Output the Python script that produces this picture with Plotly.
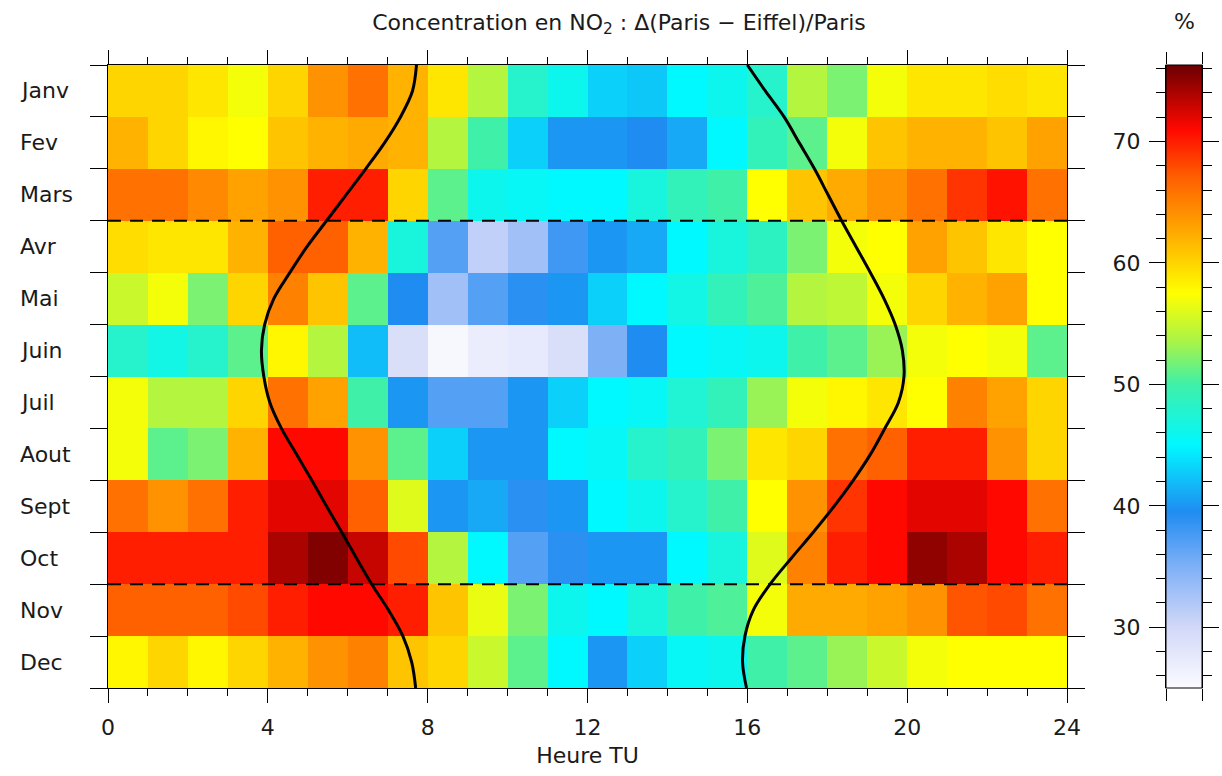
import plotly.graph_objects as go

# ---------------- data ----------------
HOURS = list(range(24))                       # hour bins 0..23 (UT)
MONTHS = ["Janv", "Fev", "Mars", "Avr", "Mai", "Juin",
          "Juil", "Aout", "Sept", "Oct", "Nov", "Dec"]

JANV = [60, 60, 59, 57, 60, 64, 66, 62, 59, 54, 48, 46, 43, 42.5, 45, 46, 48, 54, 52, 57, 59, 59, 59.5, 59]
FEV  = [62, 60, 58, 57.5, 61, 62, 62.5, 62, 54, 50, 43, 40, 40, 39.5, 41, 45, 49, 51, 57, 61, 62, 62, 61, 63]
MARS = [66, 66, 64.5, 63, 64, 70, 70, 60, 51, 46, 45.5, 45, 45, 47, 49, 50, 57.5, 61, 62.5, 64, 66, 69, 70.5, 66]
AVR  = [59.5, 59, 59, 62, 67, 67, 62, 47, 37, 31, 33, 38, 40, 41, 45, 47, 48.5, 52, 57, 57.5, 63, 61, 59, 57.5]
MAI  = [55, 57, 52, 60, 65, 61, 51, 39.5, 33, 37, 39, 40, 43, 45, 46.5, 49, 50.5, 54, 54.5, 57, 60, 62, 63, 57.5]
JUIN = [48, 46.5, 48, 51, 58, 54, 42, 29, 25.5, 27, 27.5, 29, 35, 39.5, 45, 45.5, 46, 50, 51, 53, 57, 57.5, 57, 51]
JUIL = [57, 54, 54, 60, 66, 63, 50, 40, 37, 37, 40, 43, 45, 45.5, 47.5, 49, 53, 57, 58, 59, 57.5, 65, 63, 60]
AOUT = [57, 51, 52, 62, 71, 71, 64, 51, 43, 40, 40, 45, 45.5, 48, 49, 52, 59, 60, 66, 67, 70, 70, 64, 60]
SEPT = [66, 64, 66, 70, 72, 72, 67, 56, 40, 41, 39, 40, 45, 46, 48, 50, 57.5, 64, 69, 71, 72, 72, 71, 66]
OCT  = [70, 70, 70, 70, 74, 75.5, 73, 68, 54, 45, 37, 39, 40, 40, 45, 47, 56, 65, 70, 71, 75, 74, 71, 70]
NOV  = [67, 67, 67, 68, 70, 71, 71, 70, 61, 56.5, 52, 46, 45, 47, 50, 50.5, 57, 62.5, 62.5, 63, 64, 67.5, 68, 66]
DEC  = [58, 60, 58, 60, 62, 64, 65, 61, 60, 55, 51, 45, 40, 43, 45.5, 46, 50, 51, 53, 55, 57, 57.5, 57.5, 57.5]

# sunrise / sunset curves (hours UT) read at month boundaries and mid-months
CURVE_MONTH_POS = [0, 0.5, 1, 1.5, 2, 2.5, 3, 3.5, 4, 4.5, 5, 5.5, 6,
                   6.5, 7, 7.5, 8, 8.5, 9, 9.5, 10, 10.5, 11, 11.5, 12]
SUNRISE = [7.72, 7.62, 7.32, 6.92, 6.45, 5.96, 5.47, 4.98, 4.55, 4.15, 3.92, 3.84, 3.9,
           4.05, 4.34, 4.72, 5.1, 5.47, 5.85, 6.22, 6.6, 7.02, 7.38, 7.6, 7.7]
SUNSET = [16.0, 16.45, 16.92, 17.3, 17.68, 18.02, 18.36, 18.72, 19.08, 19.42, 19.7, 19.88, 19.92,
          19.78, 19.44, 19.08, 18.65, 18.17, 17.65, 17.1, 16.57, 16.15, 15.94, 15.88, 15.98]

SEASON_BOUNDS = [3, 10]          # dashed separators (after Mars, after Oct)

Z_MIN, Z_MAX = 25.0, 76.3
CB_MAJOR = [30, 40, 50, 60, 70]
CB_MINOR = list(range(26, 77, 2))
X_MAJOR = [0, 4, 8, 12, 16, 20, 24]

Z = [JANV, FEV, MARS, AVR, MAI, JUIN, JUIL, AOUT, SEPT, OCT, NOV, DEC]

# ---------------- style ----------------
def norm(v):
    return (v - Z_MIN) / (Z_MAX - Z_MIN)

COLORSCALE = [
    [0.0, "#fbfbff"],
    [norm(30), "#d2d8f8"],
    [norm(35), "#7eb0f6"],
    [norm(39.5), "#1f8cf2"],
    [norm(45), "#00f8ff"],
    [norm(50), "#3ff0a8"],
    [norm(53.5), "#a8f448"],
    [norm(57.5), "#ffff00"],
    [norm(63), "#ffa200"],
    [norm(67), "#ff6000"],
    [norm(71), "#ff0800"],
    [1.0, "#6a0000"],
]

FONT = "DejaVu Sans"
FS = 22
TXT = "#1a1a1a"
W, H = 1222, 776
L, R, T, B = 108, 20, 65, 88
PW = W - L - R
PH = H - T - B
X_RIGHT = 1067
CB_LEFT, CB_RIGHT = 1166, 1202

def px_x(px):
    return (px - L) / PW

fig = go.Figure()

fig.add_trace(go.Heatmap(
    z=Z,
    x=[h + 0.5 for h in HOURS],
    y=[i + 0.5 for i in range(len(MONTHS))],
    zmin=Z_MIN, zmax=Z_MAX,
    colorscale=COLORSCALE,
    showscale=True,
    colorbar=dict(
        x=px_x(CB_LEFT), xanchor="left", xpad=0,
        thickness=CB_RIGHT - CB_LEFT,
        len=1, lenmode="fraction", y=0.5, yanchor="middle", ypad=0,
        outlinewidth=1, outlinecolor="black",
        ticks="", showticklabels=False,
    ),
    hoverinfo="skip",
    xaxis="x", yaxis="y",
))

for b in SEASON_BOUNDS:
    fig.add_trace(go.Scatter(
        x=[0, 24], y=[b, b], mode="lines",
        line=dict(color="black", width=2, dash="13px,9px"),
        showlegend=False, hoverinfo="skip",
    ))

for curve in (SUNRISE, SUNSET):
    fig.add_trace(go.Scatter(
        x=curve, y=CURVE_MONTH_POS, mode="lines",
        line=dict(color="black", width=3, shape="spline", smoothing=1.0),
        showlegend=False, hoverinfo="skip",
    ))

# invisible trace creating the colour-scale axis subplot
fig.add_trace(go.Scatter(x=[0.5], y=[50], xaxis="x2", yaxis="y2", mode="markers",
                         marker=dict(opacity=0), showlegend=False, hoverinfo="skip"))

fig.update_layout(
    width=W, height=H,
    margin=dict(l=L, r=R, t=T, b=B, autoexpand=False),
    paper_bgcolor="white", plot_bgcolor="white",
    font=dict(family=FONT, size=FS, color=TXT),
    showlegend=False,
    title=dict(
        text="Concentration en NO<sub>2</sub> : Δ(Paris − Eiffel)/Paris",
        x=619 / W, xref="container", xanchor="center",
        y=1 - 22 / H, yref="container", yanchor="middle",
        font=dict(family=FONT, size=22, color=TXT),
    ),
    xaxis=dict(
        domain=[0, px_x(X_RIGHT)],
        range=[0, 24], tickvals=X_MAJOR,
        ticks="outside", ticklen=14, tickwidth=1, tickcolor="black",
        minor=dict(dtick=1, tick0=0, ticks="outside", ticklen=7,
                   tickwidth=1, tickcolor="black", showgrid=False),
        mirror="ticks", showline=True, linecolor="black", linewidth=1,
        showgrid=False, zeroline=False,
        ticklabelstandoff=6,
        title=dict(text="Heure TU", standoff=8, font=dict(size=FS)),
    ),
    yaxis=dict(
        range=[12, 0], tickvals=list(range(13)),
        ticks="outside", ticklen=17, tickwidth=1, tickcolor="black",
        showticklabels=False,
        mirror="ticks", showline=True, linecolor="black", linewidth=1,
        showgrid=False, zeroline=False,
    ),
    xaxis2=dict(domain=[px_x(CB_LEFT), px_x(CB_RIGHT)], range=[0, 1],
                anchor="y2", tickvals=[0, 1], ticks="outside", ticklen=12,
                tickwidth=1, tickcolor="black", showticklabels=False,
                mirror="ticks", showline=False, showgrid=False, zeroline=False),
    yaxis2=dict(
        anchor="x2", range=[Z_MIN, Z_MAX], tickvals=CB_MAJOR,
        ticks="outside", ticklen=16, tickwidth=1, tickcolor="black",
        minor=dict(tickvals=CB_MINOR, ticks="outside", ticklen=9,
                   tickwidth=1, tickcolor="black", showgrid=False),
        mirror="ticks", showline=True, linecolor="black", linewidth=1,
        showgrid=False, zeroline=False, ticklabelstandoff=4,
    ),
)

annotations = []
for i, m in enumerate(MONTHS):
    annotations.append(dict(
        text=m, x=px_x(18), xref="paper", xanchor="left",
        y=i + 0.5, yref="y", yanchor="middle", showarrow=False,
        font=dict(family=FONT, size=FS, color=TXT),
    ))
annotations.append(dict(
    text="%", x=px_x(1184), xref="paper", xanchor="center",
    y=(H - B - 22) / PH, yref="paper", yanchor="middle", showarrow=False,
    font=dict(family=FONT, size=FS, color=TXT),
))
fig.update_layout(annotations=annotations)

fig.write_html("out.html")
